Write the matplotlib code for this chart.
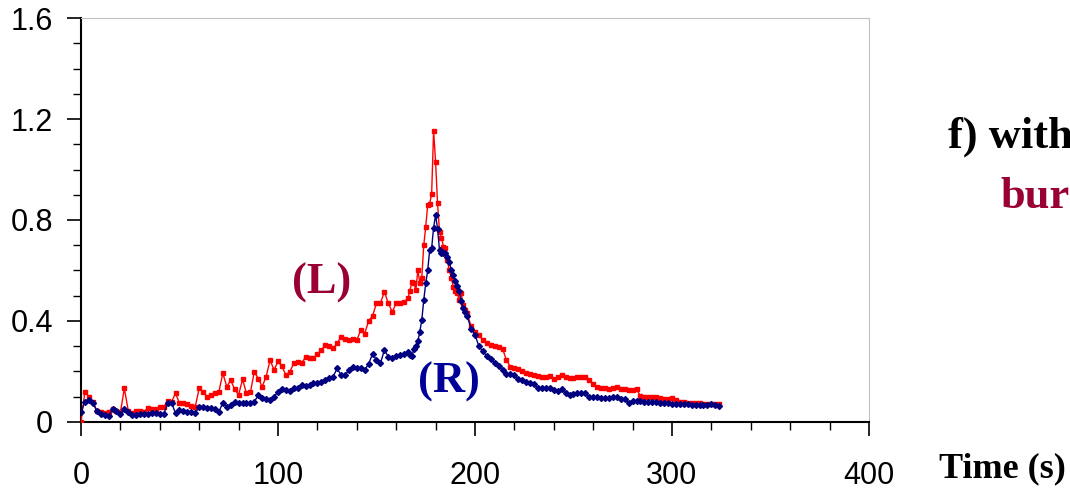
import numpy as np
import matplotlib
matplotlib.use("Agg")
import matplotlib.pyplot as plt
from matplotlib.ticker import MultipleLocator

# time grid: 2 s steps, 1 s steps around the peak
t_early = np.arange(0, 166, 2)
t_peak = np.arange(166, 196, 1)
t_late = np.arange(196, 326, 2)

# (L) curve - red
L_early = [0.00, 0.12, 0.10, 0.08, 0.045, 0.04, 0.035, 0.04, 0.052, 0.045,
           0.038, 0.133, 0.045, 0.035, 0.045, 0.042, 0.04, 0.057, 0.05, 0.05,
           0.061, 0.06, 0.084, 0.08, 0.114, 0.074, 0.074, 0.072, 0.065, 0.061,
           0.133, 0.12, 0.10, 0.108, 0.115, 0.12, 0.193, 0.14, 0.165, 0.13,
           0.107, 0.169, 0.114, 0.118, 0.199, 0.172, 0.14, 0.18, 0.245, 0.206,
           0.24, 0.22, 0.186, 0.199, 0.232, 0.239, 0.232, 0.258, 0.255, 0.252,
           0.27, 0.285, 0.305, 0.30, 0.292, 0.311, 0.338, 0.33, 0.324, 0.33,
           0.324, 0.364, 0.35, 0.40, 0.42, 0.47, 0.47, 0.516, 0.47, 0.436,
           0.47, 0.47, 0.475]
L_peak = [0.49, 0.52, 0.556, 0.55, 0.523, 0.602, 0.55, 0.57, 0.70, 0.773,
          0.859, 0.865, 0.903, 1.154, 1.031, 0.866, 0.754, 0.73, 0.694, 0.688,
          0.64, 0.60, 0.57, 0.536, 0.52, 0.51, 0.483, 0.51, 0.463, 0.445]
L_late = [0.43, 0.38, 0.355, 0.345, 0.325, 0.312, 0.305, 0.30, 0.298, 0.29,
          0.245, 0.219, 0.215, 0.21, 0.20, 0.195, 0.19, 0.185, 0.182, 0.18,
          0.18, 0.182, 0.169, 0.18, 0.186, 0.18, 0.175, 0.173, 0.177, 0.177,
          0.18, 0.165, 0.15, 0.137, 0.135, 0.134, 0.13, 0.135, 0.14, 0.132,
          0.13, 0.127, 0.128, 0.13, 0.103, 0.10, 0.10, 0.10, 0.097, 0.094,
          0.09, 0.09, 0.094, 0.088, 0.08, 0.078, 0.076, 0.074, 0.075, 0.076,
          0.073, 0.071, 0.07, 0.07, 0.07]

# (R) curve - navy
R_early = [0.04, 0.08, 0.087, 0.075, 0.045, 0.03, 0.026, 0.024, 0.05, 0.045,
           0.031, 0.05, 0.04, 0.028, 0.027, 0.03, 0.031, 0.033, 0.036, 0.034,
           0.033, 0.031, 0.074, 0.074, 0.035, 0.047, 0.043, 0.04, 0.04, 0.035,
           0.061, 0.058, 0.054, 0.054, 0.05, 0.04, 0.077, 0.061, 0.067, 0.081,
           0.076, 0.074, 0.077, 0.075, 0.08, 0.107, 0.094, 0.09, 0.087, 0.10,
           0.12, 0.129, 0.126, 0.124, 0.134, 0.134, 0.145, 0.142, 0.148, 0.154,
           0.154, 0.16, 0.168, 0.173, 0.18, 0.212, 0.186, 0.186, 0.206, 0.219,
           0.215, 0.212, 0.206, 0.23, 0.269, 0.246, 0.232, 0.285, 0.259, 0.252,
           0.26, 0.264, 0.27]
R_peak = [0.277, 0.265, 0.26, 0.29, 0.30, 0.32, 0.358, 0.404, 0.483, 0.549,
          0.60, 0.681, 0.688, 0.77, 0.82, 0.766, 0.68, 0.67, 0.668, 0.668,
          0.655, 0.635, 0.60, 0.582, 0.56, 0.54, 0.52, 0.48, 0.45, 0.435]
R_late = [0.42, 0.37, 0.345, 0.30, 0.28, 0.262, 0.25, 0.233, 0.22, 0.205,
          0.19, 0.19, 0.186, 0.17, 0.165, 0.16, 0.156, 0.15, 0.133, 0.133,
          0.133, 0.133, 0.127, 0.124, 0.129, 0.115, 0.107, 0.111, 0.115, 0.116,
          0.114, 0.10, 0.10, 0.10, 0.095, 0.094, 0.094, 0.097, 0.10, 0.092,
          0.09, 0.077, 0.083, 0.085, 0.082, 0.08, 0.08, 0.08, 0.078, 0.076,
          0.076, 0.076, 0.073, 0.071, 0.071, 0.071, 0.07, 0.068, 0.067, 0.067,
          0.067, 0.068, 0.07, 0.067, 0.065]

t = np.concatenate([t_early, t_peak, t_late])
L = np.array(L_early + L_peak + L_late)
R = np.array(R_early + R_peak + R_late)

fig = plt.figure(figsize=(10.7, 4.92), dpi=100)
ax = fig.add_axes([0.0757, 0.1423, 0.7364, 0.8211])

ax.plot(t, L, color='#ff0000', lw=1, marker='s', ms=3.5, mec='#ff0000', zorder=3)
ax.plot(t, R, color='#000080', lw=1, marker='D', ms=3, mec='#000080', zorder=4)

ax.set_xlim(0, 400)
ax.set_ylim(0, 1.6)
ax.xaxis.set_major_locator(MultipleLocator(100))
ax.xaxis.set_minor_locator(MultipleLocator(20))
ax.yaxis.set_minor_locator(MultipleLocator(0.1))
ax.set_yticks([0, 0.4, 0.8, 1.2, 1.6])
ax.set_yticklabels(['0', '0.4', '0.8', '1.2', '1.6'])

for lab in ax.get_xticklabels() + ax.get_yticklabels():
    lab.set_fontfamily('Liberation Sans')
ax.tick_params(which='major', direction='out', length=10, width=1.2, labelsize=22)
ax.tick_params(axis='x', which='major', pad=18)
ax.tick_params(axis='y', which='major', pad=10)
ax.tick_params(which='minor', direction='out', length=6, width=1)

ax.spines['left'].set_linewidth(1.5)
ax.spines['bottom'].set_linewidth(1.5)
ax.spines['top'].set_color('#c0c0c0')
ax.spines['right'].set_color('#c0c0c0')

serif = 'Liberation Serif'
ax.text(122, 0.55, '(L)', color='#990033', fontsize=32, fontweight='bold',
        family=serif, ha='center', va='center')
ax.text(187, 0.16, '(R)', color='#000099', fontsize=32, fontweight='bold',
        family=serif, ha='center', va='center')

fig.text(0.886, 0.722, 'f) with', color='black', fontsize=32, fontweight='bold',
         family=serif, ha='left', va='center')
fig.text(0.935, 0.600, 'bur', color='#990033', fontsize=32, fontweight='bold',
         family=serif, ha='left', va='center')
fig.text(0.878, 0.048, 'Time (s)', color='black', fontsize=26, fontweight='bold',
         family=serif, ha='left', va='center')

plt.savefig('out.png', dpi=100)
